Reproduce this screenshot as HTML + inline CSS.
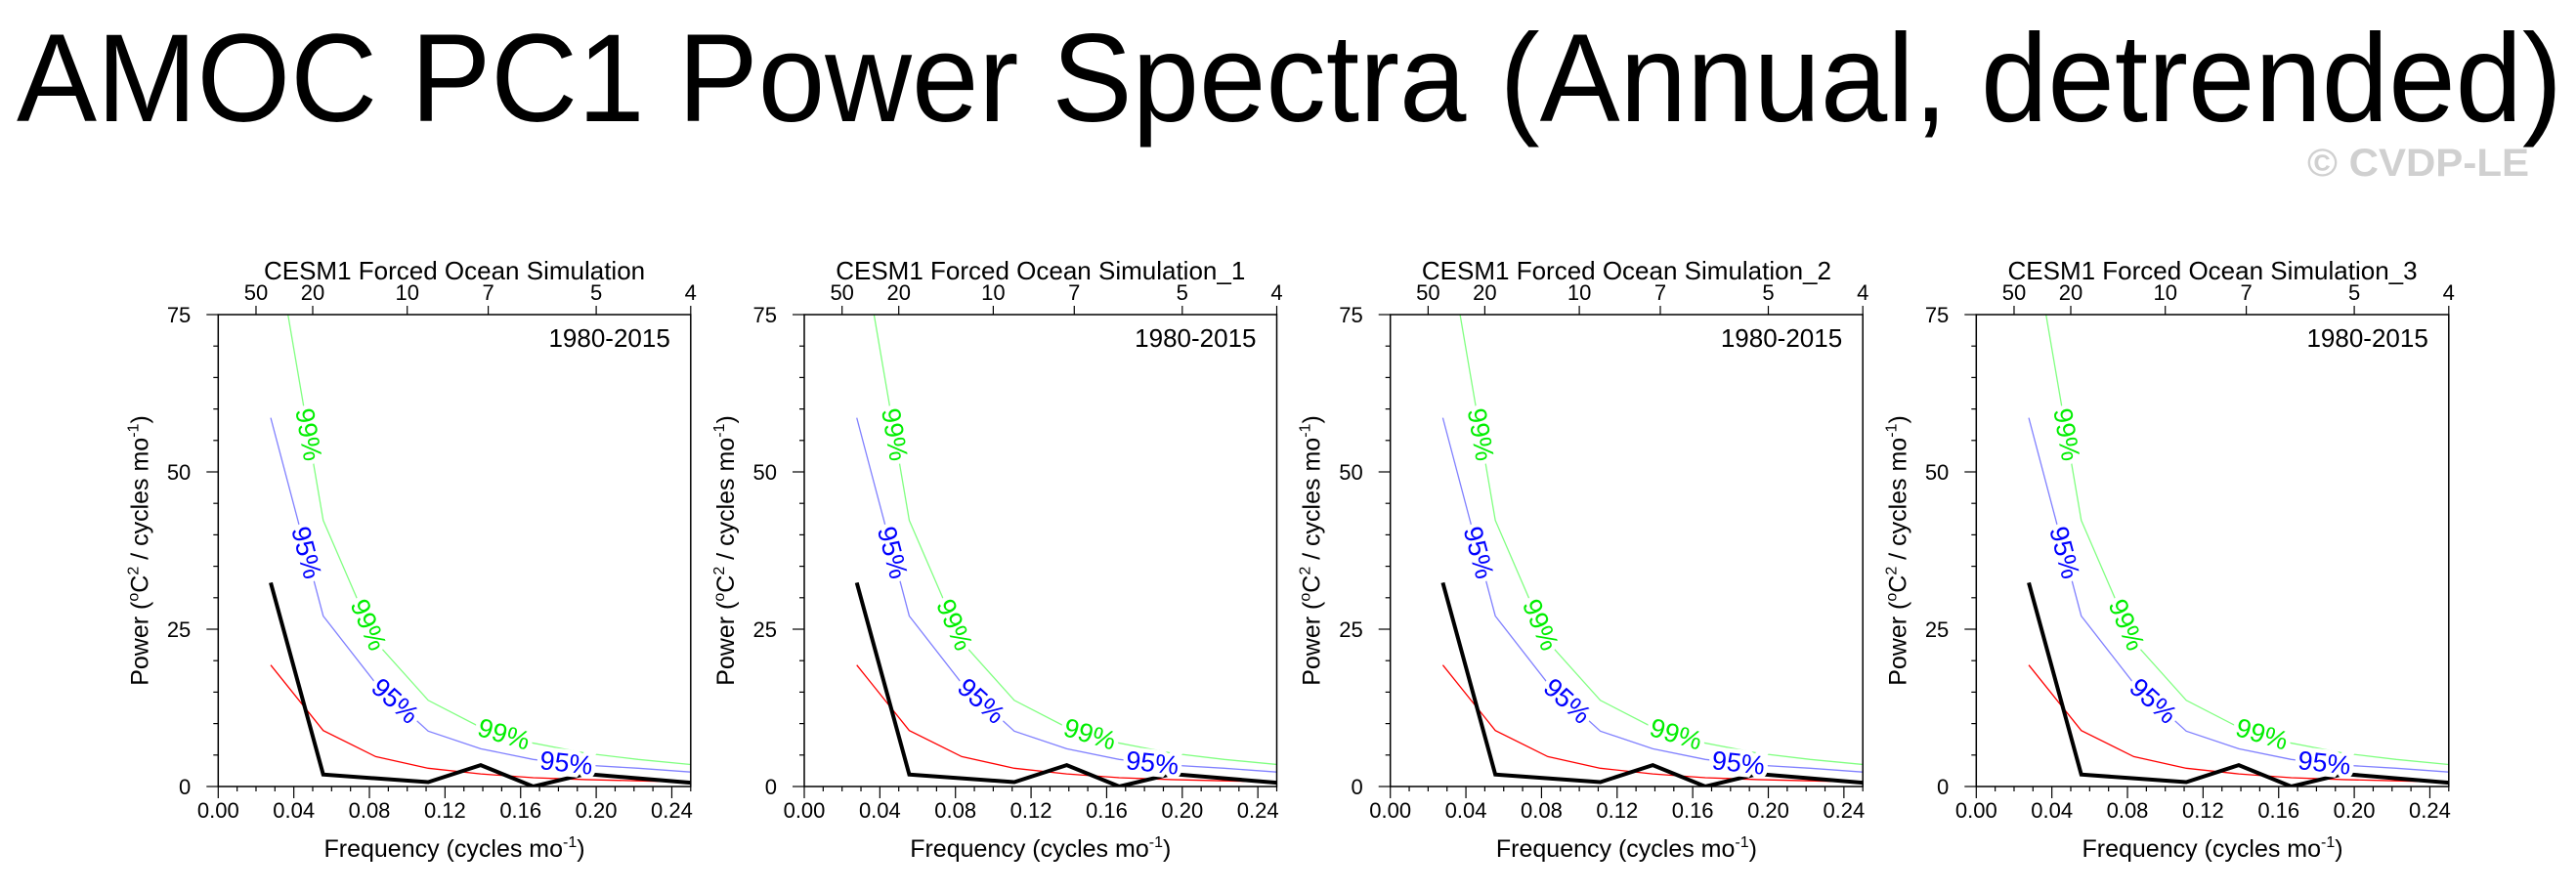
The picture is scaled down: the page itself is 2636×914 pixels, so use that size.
<!DOCTYPE html>
<html><head><meta charset="utf-8"><style>
html,body{margin:0;padding:0;background:#fff;}
svg{display:block;font-family:"Liberation Sans",sans-serif;}
</style></head><body>
<svg id="chart" width="2636" height="914" viewBox="0 0 2636 914">
<text x="17" y="124" font-size="128" textLength="2605" lengthAdjust="spacingAndGlyphs">AMOC PC1 Power Spectra (Annual, detrended)</text>
<text x="2361" y="180" font-size="40" font-weight="bold" fill="#d0d0d0" textLength="227" lengthAdjust="spacingAndGlyphs">© CVDP-LE</text>
</svg>
<script>
const panelTitles = ["CESM1 Forced Ocean Simulation","CESM1 Forced Ocean Simulation_1","CESM1 Forced Ocean Simulation_2","CESM1 Forced Ocean Simulation_3"];
const freqs = [1/36,2/36,3/36,4/36,5/36,6/36,7/36,8/36,9/36];
const spectrum = [32.4,1.9,1.3,0.7,3.4,0.0,2.0,1.3,0.6];
const redNoise = [19.3,8.9,4.75,2.9,2.0,1.4,1.1,0.9,0.7];
const conf95 = [58.6,27.1,16.4,8.8,6.0,4.3,3.4,2.9,2.3];
const conf99 = [91,42.3,23,13.7,9.4,6.9,5.3,4.3,3.5];
const xTicks = [0,0.04,0.08,0.12,0.16,0.20,0.24];
const xTickLabels = ["0.00","0.04","0.08","0.12","0.16","0.20","0.24"];
const yTicks = [0,25,50,75];
const periods = [50,20,10,7,5,4];
const NS="http://www.w3.org/2000/svg";
const svg=document.getElementById('chart');
const lefts=[223.3,823,1422.7,2022.3];
const W=483.5, TOP=322, BOT=805, XMAX=0.25, YMAX=75;
function mk(tag,attrs,parent){const e=document.createElementNS(NS,tag);for(const k in attrs)e.setAttribute(k,attrs[k]);(parent||svg).appendChild(e);return e;}
panelTitles.forEach((title,pi)=>{
  const L=lefts[pi];
  const xs=f=>L+f/XMAX*W;
  const ys=v=>BOT-v/YMAX*(BOT-TOP);
  const g=mk('g',{});
  
  
  const cid='clip'+pi;
  const cp=mk('clipPath',{id:cid},g);mk('rect',{x:L,y:TOP,width:W,height:BOT-TOP},cp);
  const plot=mk('g',{'clip-path':'url(#'+cid+')'},g);
  function series(vals,color,w,name){
    const p=mk('polyline',{points:vals.map((v,i)=>xs(freqs[i])+','+ys(v)).join(' '),fill:'none',stroke:color,'stroke-width':w,'stroke-linejoin':'miter'},plot);
    
    
  }
  series(redNoise,'#ff0000',1.3,'red-noise-line');
  series(conf95,'#8080ff',1.3,'confidence-95-line');
  series(conf99,'#80ff80',1.3,'confidence-99-line');
  series(spectrum,'#000000',4,'power-spectrum-line');
  function lab(vals,seg,t,txt,color,name){
    const x1=xs(freqs[seg]),y1=ys(vals[seg]),x2=xs(freqs[seg+1]),y2=ys(vals[seg+1]);
    const x=x1+(x2-x1)*t,y=y1+(y2-y1)*t;
    const a=Math.atan2(y2-y1,x2-x1)*180/Math.PI;
    const tx=mk('text',{x:x,y:y,'font-size':27,fill:color,'text-anchor':'middle','dominant-baseline':'central',stroke:'#fff','stroke-width':9,'paint-order':'stroke',transform:'rotate('+a+' '+x+' '+y+')'},plot);
    tx.textContent=txt;
    
    
  }
  lab(conf99,0,0.72,'99%','#00ee00','label-99-a');
  lab(conf99,1,0.86,'99%','#00ee00','label-99-b');
  lab(conf99,4,0.44,'99%','#00ee00','label-99-c');
  lab(conf95,0,0.68,'95%','#0000ff','label-95-a');
  lab(conf95,2,0.37,'95%','#0000ff','label-95-b');
  lab(conf95,5,0.63,'95%','#0000ff','label-95-c');
  const fr=mk('rect',{x:L,y:TOP,width:W,height:BOT-TOP,fill:'none',stroke:'#000','stroke-width':1.5},g);
  
  
  for(let v=0;v<=75;v+=5){const y=ys(v);const major=v%25===0;mk('line',{x1:L-(major?12:5),x2:L,y1:y,y2:y,stroke:'#000','stroke-width':1.2},g);}
  yTicks.forEach(v=>{const t=mk('text',{x:L-28,y:ys(v)+8,'font-size':22,'text-anchor':'end'},g);t.textContent=String(v);
    });
  for(let i=0;i<=25;i++){const f=i*0.01;const x=xs(f);const major=i%4===0;mk('line',{x1:x,x2:x,y1:BOT,y2:BOT+(major?12:5),stroke:'#000','stroke-width':1.2},g);}
  xTicks.forEach((f,i)=>{const t=mk('text',{x:xs(f),y:BOT+32,'font-size':22,'text-anchor':'middle'},g);t.textContent=xTickLabels[i];
    });
  periods.forEach(p=>{const x=xs(1/p);mk('line',{x1:x,x2:x,y1:TOP,y2:TOP-9,stroke:'#000','stroke-width':1.2},g);
    const t=mk('text',{x:x,y:TOP-15,'font-size':22,'text-anchor':'middle'},g);t.textContent=String(p);
    });
  const tt=mk('text',{x:L+W/2,y:286,'font-size':26,'text-anchor':'middle'},g);tt.textContent=title;
  
  const yr=mk('text',{x:L+W-21,y:355,'font-size':26,'text-anchor':'end'},g);yr.textContent='1980-2015';
  
  const xt=mk('text',{x:L+W/2,y:877,'font-size':25,'text-anchor':'middle'},g);
  xt.innerHTML='Frequency (cycles mo<tspan dy="-10" font-size="16">-1</tspan><tspan dy="10">)</tspan>';
  
  const cy=(TOP+BOT)/2;
  const yt=mk('text',{x:L-72,y:cy,'font-size':25,'text-anchor':'middle',transform:'rotate(-90 '+(L-72)+' '+cy+')'},g);
  yt.innerHTML='Power (<tspan dy="-10" font-size="16">o</tspan><tspan dy="10">C</tspan><tspan dy="-10" font-size="16">2</tspan><tspan dy="10"> / cycles mo</tspan><tspan dy="-10" font-size="16">-1</tspan><tspan dy="10">)</tspan>';
  
});
</script>
</body></html>
